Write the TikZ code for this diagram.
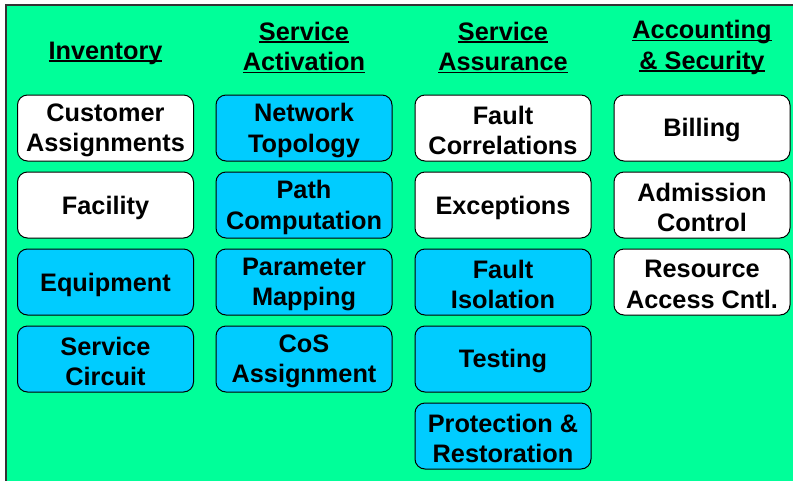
\documentclass[tikz,border=0pt]{standalone}
\usepackage{fontspec}
\setmainfont{Liberation Sans}
\definecolor{bggreen}{HTML}{00FF99}
\definecolor{boxcyan}{HTML}{00CCFF}
\newcommand{\myul}[1]{\leavevmode\setbox0\hbox{#1}\rlap{\rule[-2.6pt]{\wd0}{1.7pt}}\box0}
\tikzset{
  card/.style={draw=black, line width=1pt, rounded corners=10pt, minimum width=176pt, minimum height=66pt, inner sep=0pt},
  wcard/.style={card, fill=white},
  ccard/.style={card, fill=boxcyan},
  head/.style={align=center, font=\fontsize{25.3}{30.5}\selectfont\bfseries, inner sep=0pt},
  ctext/.style={head}
}
\begin{document}
\begin{tikzpicture}[x=1pt,y=-1pt]
\useasboundingbox (0,0) rectangle (793,480);
\fill[bggreen] (6,5) rectangle (800,490);
\draw[line width=1.3pt, black!80] (6,490) -- (6,5) -- (800,5);
% headings
\node[head] (h1) at (105.5,53.5) {\myul{Inventory}};
\node[head] (h2) at (304,47.5) {\myul{Service}\\\myul{Activation}};
\node[head] (h3) at (503,47.5) {\myul{Service}\\\myul{Assurance}};
\node[head] (h4) at (702,47.5) {\myul{Accounting}\\\myul{\& Security}};
% column 1
\node[wcard] (c11) at (105.5,128) {};
\node[wcard] (c12) at (105.5,205) {};
\node[ccard] (c13) at (105.5,282) {};
\node[ccard] (c14) at (105.5,359) {};
% column 2
\node[ccard] (c21) at (304,128) {};
\node[ccard] (c22) at (304,205) {};
\node[ccard] (c23) at (304,282) {};
\node[ccard] (c24) at (304,359) {};
% column 3
\node[wcard] (c31) at (503,128) {};
\node[wcard] (c32) at (503,205) {};
\node[ccard] (c33) at (503,282) {};
\node[ccard] (c34) at (503,359) {};
\node[ccard] (c35) at (503,436) {};
% column 4
\node[wcard] (c41) at (702,128) {};
\node[wcard] (c42) at (702,205) {};
\node[wcard] (c43) at (702,282) {};
% texts
\foreach \n/\t in {c11/{Customer\\Assignments}, c12/{Facility}, c13/{Equipment}, c14/{Service\\Circuit},
  c21/{Network\\Topology}, c22/{Path\\Computation}, c23/{Parameter\\Mapping}, c24/{CoS\\Assignment},
  c31/{Fault\\Correlations}, c32/{Exceptions}, c33/{Fault\\Isolation}, c34/{Testing}, c35/{Protection \&\\Restoration},
  c41/{Billing}, c42/{Admission\\Control}, c43/{Resource\\Access Cntl.}}
  \node[ctext] (\n t) at ([yshift=-2.5pt]\n.center) {\t};
\end{tikzpicture}
\end{document}
